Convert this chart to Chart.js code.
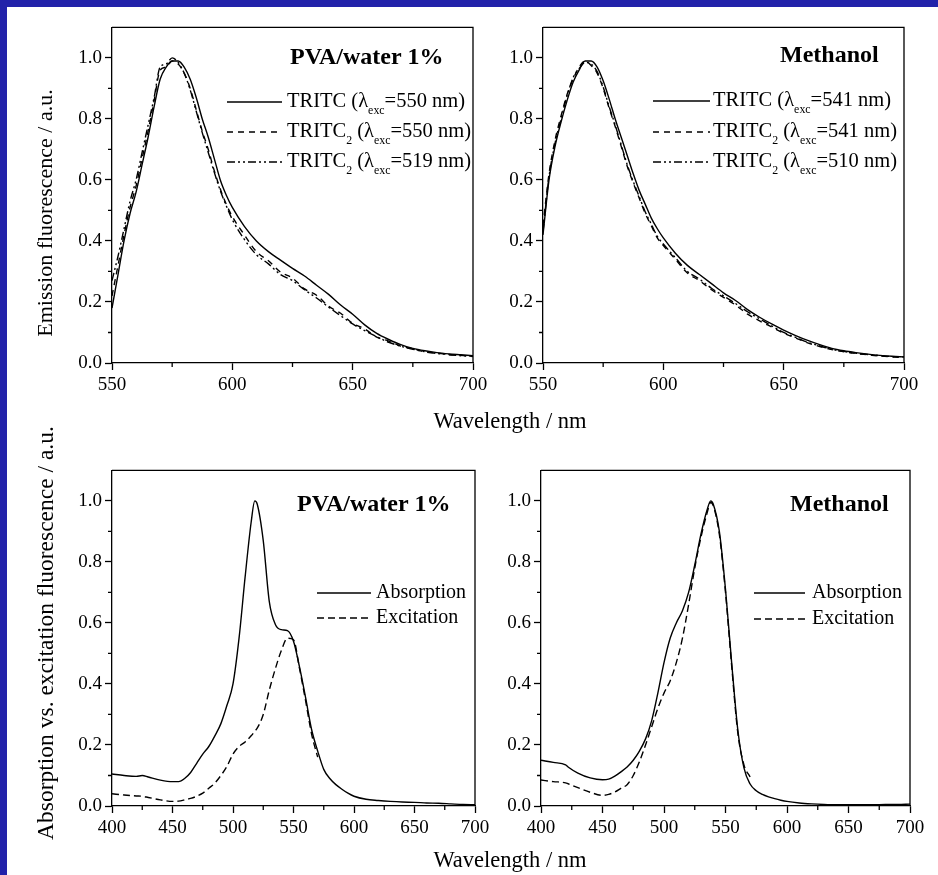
<!DOCTYPE html>
<html>
<head>
<meta charset="utf-8">
<script src="https://cdn.jsdelivr.net/npm/chart.js@4.4.1/dist/chart.umd.min.js"></script>
<style>
  body {
    margin: 0;
    width: 938px;
    height: 875px;
    position: relative;
    overflow: hidden;
    background: #2222aa;
    font-family: 'Liberation Serif', 'Times New Roman', serif;
  }
  #sheet { position: absolute; left: 7px; top: 7px; width: 931px; height: 868px; background: #fff; }
  canvas { position: absolute; }
  .axis-title {
    position: absolute;
    font-size: 22.5px;
    color: #000;
    white-space: nowrap;
    transform: translate(-50%, -50%);
  }
  .axis-title.vertical { font-size: 22px; transform: translate(-50%, -50%) rotate(-90deg); }
  .axis-title.vertical.long { font-size: 23.5px; }
</style>
</head>
<body>
<div id="sheet"></div>
<canvas id="emission-pva"></canvas>
<canvas id="emission-methanol"></canvas>
<canvas id="absorption-pva"></canvas>
<canvas id="absorption-methanol"></canvas>
<div class="axis-title vertical" style="left:45px; top:213px">Emission fluorescence / a.u.</div>
<div class="axis-title" style="left:510px; top:421px">Wavelength / nm</div>
<div class="axis-title vertical long" style="left:45px; top:633px">Absorption vs. excitation fluorescence / a.u.</div>
<div class="axis-title" style="left:510px; top:860px">Wavelength / nm</div>
<script>
// emission spectra, wavelength in nm
const emissionWavelengths = [550, 552.5, 555, 557.5, 560, 562.5, 565, 567.5, 570, 572.5, 575, 577.5, 580, 582.5, 585, 587.5, 590, 592.5, 595, 597.5,
  600, 605, 610, 615, 620, 625, 630, 635, 640, 645, 650, 655, 660, 665, 670, 675, 680, 685, 690, 695, 700];

const pvaTritc550 = [0.18, 0.29, 0.40, 0.49, 0.56, 0.65, 0.74, 0.84, 0.93, 0.97, 0.99, 0.99, 0.97, 0.93, 0.87, 0.80, 0.74, 0.67, 0.60, 0.55,
  0.51, 0.448, 0.40, 0.365, 0.337, 0.31, 0.285, 0.255, 0.225, 0.19, 0.16, 0.125, 0.097, 0.077, 0.06, 0.048, 0.04, 0.034, 0.03, 0.027, 0.024];
const pvaTritc2_550 = [0.22, 0.32, 0.42, 0.51, 0.58, 0.67, 0.76, 0.86, 0.96, 0.97, 0.99, 0.98, 0.95, 0.90, 0.83, 0.76, 0.70, 0.63, 0.57, 0.52,
  0.48, 0.42, 0.365, 0.335, 0.298, 0.278, 0.243, 0.222, 0.186, 0.163, 0.13, 0.112, 0.085, 0.072, 0.055, 0.047, 0.036, 0.033, 0.027, 0.025, 0.021];
const pvaTritc2_519 = [0.27, 0.35, 0.44, 0.53, 0.60, 0.69, 0.78, 0.87, 0.97, 0.98, 1.0, 0.985, 0.95, 0.895, 0.825, 0.755, 0.69, 0.625, 0.565, 0.515,
  0.47, 0.405, 0.355, 0.325, 0.29, 0.27, 0.24, 0.213, 0.183, 0.155, 0.128, 0.106, 0.086, 0.068, 0.055, 0.045, 0.037, 0.031, 0.028, 0.024, 0.022];

const methanolTritc541 = [0.42, 0.60, 0.71, 0.79, 0.86, 0.92, 0.96, 0.99, 0.99, 0.97, 0.925, 0.865, 0.80, 0.74, 0.68, 0.62, 0.565, 0.52, 0.475, 0.44,
  0.41, 0.36, 0.32, 0.29, 0.26, 0.23, 0.205, 0.175, 0.15, 0.128, 0.108, 0.09, 0.074, 0.06, 0.048, 0.04, 0.034, 0.029, 0.025, 0.022, 0.02];
const methanolTritc2_541 = [0.45, 0.62, 0.73, 0.81, 0.88, 0.93, 0.97, 0.99, 0.975, 0.95, 0.90, 0.835, 0.775, 0.71, 0.645, 0.59, 0.54, 0.49, 0.45, 0.41,
  0.385, 0.34, 0.295, 0.27, 0.24, 0.215, 0.19, 0.16, 0.138, 0.118, 0.098, 0.082, 0.066, 0.054, 0.044, 0.037, 0.031, 0.027, 0.023, 0.02, 0.018];
const methanolTritc2_510 = [0.43, 0.61, 0.72, 0.80, 0.875, 0.935, 0.965, 0.985, 0.98, 0.955, 0.905, 0.84, 0.78, 0.715, 0.65, 0.595, 0.545, 0.495, 0.455, 0.415,
  0.39, 0.345, 0.30, 0.275, 0.245, 0.22, 0.195, 0.168, 0.145, 0.122, 0.10, 0.084, 0.068, 0.056, 0.045, 0.038, 0.032, 0.028, 0.024, 0.021, 0.02];

// absorption and excitation spectra; excitation stops at the emission window
const pvaAbsWavelengths = [400, 410, 420, 425, 430, 440, 450, 455, 460, 465, 470, 475, 480, 485, 490, 495, 500, 505, 510, 515, 518, 520, 525, 530,
  535, 540, 545, 550, 555, 560, 565, 570, 575, 580, 585, 590, 595, 600, 610, 620, 630, 640, 650, 660, 670, 680, 690, 700];
const pvaAbsorption = [0.105, 0.10, 0.097, 0.10, 0.095, 0.085, 0.08, 0.08, 0.09, 0.11, 0.14, 0.17, 0.195, 0.23, 0.27, 0.33, 0.40, 0.55, 0.75, 0.93, 1.0, 0.99, 0.87, 0.67,
  0.595, 0.578, 0.575, 0.54, 0.455, 0.355, 0.25, 0.18, 0.12, 0.09, 0.07, 0.055, 0.042, 0.032, 0.022, 0.018, 0.015, 0.013, 0.012, 0.01, 0.009, 0.007, 0.005, 0.004];
const pvaExcitation = [0.04, 0.036, 0.033, 0.032, 0.028, 0.02, 0.015, 0.016, 0.02, 0.025, 0.032, 0.042, 0.058, 0.075, 0.10, 0.13, 0.17, 0.195, 0.21, 0.23, 0.245, 0.255, 0.30, 0.38,
  0.45, 0.51, 0.55, 0.545, 0.45, 0.345, 0.235, 0.16, null, null, null, null, null, null, null, null, null, null, null, null, null, null, null, null];

const methanolAbsWavelengths = [400, 410, 420, 422, 430, 440, 450, 455, 460, 465, 470, 475, 480, 485, 490, 495, 500, 505, 510, 515, 520, 525, 530, 535,
  538, 540, 545, 550, 555, 560, 565, 570, 575, 580, 585, 590, 595, 600, 610, 620, 630, 640, 650, 660, 670, 680, 690, 700];
const methanolAbsorption = [0.15, 0.143, 0.135, 0.128, 0.108, 0.092, 0.086, 0.088, 0.098, 0.112, 0.128, 0.15, 0.18, 0.22, 0.28, 0.37, 0.47, 0.55, 0.60, 0.64, 0.70, 0.79, 0.89, 0.97,
  1.0, 0.99, 0.90, 0.71, 0.47, 0.25, 0.125, 0.072, 0.05, 0.038, 0.03, 0.024, 0.019, 0.015, 0.01, 0.007, 0.005, 0.004, 0.004, 0.004, 0.004, 0.005, 0.005, 0.006];
const methanolExcitation = [0.085, 0.08, 0.076, 0.073, 0.06, 0.045, 0.035, 0.038, 0.046, 0.058, 0.07, 0.10, 0.145, 0.20, 0.26, 0.32, 0.37, 0.41, 0.47, 0.55, 0.66, 0.78, 0.88, 0.96,
  0.995, 0.985, 0.89, 0.70, 0.46, 0.24, 0.135, 0.095, null, null, null, null, null, null, null, null, null, null, null, null, null, null, null, null];

// ticks
const emissionTicks = { min: 550, max: 700, step: 50, minor: [575, 625, 675] };
const absorptionTicks = { min: 400, max: 700, step: 50, minor: [425, 475, 525, 575, 625, 675] };
const intensityMinorTicks = [0.1, 0.3, 0.5, 0.7, 0.9];

const SOLID = [];
const DASHED = [6, 5];
const DASH_DOT_DOT = [8, 3, 2, 3, 2, 3];

Chart.defaults.font.family = "'Liberation Serif', 'Times New Roman', serif";
Chart.defaults.color = '#000';

const toPoints = (xs, ys) => xs.map((x, i) => ({ x: x, y: ys[i] }));

// frame, minor ticks, panel caption and a legend with subscripts
const panelDecorations = {
  id: 'panelDecorations',
  afterDraw(chart, args, opts) {
    const ctx = chart.ctx;
    const area = chart.chartArea;
    const xScale = chart.scales.x;
    const yScale = chart.scales.y;
    const dx = chart.canvas.offsetLeft;
    const dy = chart.canvas.offsetTop;

    ctx.save();
    ctx.strokeStyle = '#000';
    ctx.lineWidth = 1.3;
    ctx.setLineDash([]);
    ctx.beginPath();
    ctx.moveTo(area.left, area.top);
    ctx.lineTo(area.right, area.top);
    ctx.lineTo(area.right, area.bottom);
    opts.minorX.forEach((v) => {
      const px = xScale.getPixelForValue(v);
      ctx.moveTo(px, area.bottom);
      ctx.lineTo(px, area.bottom + 4);
    });
    intensityMinorTicks.forEach((v) => {
      const py = yScale.getPixelForValue(v);
      ctx.moveTo(area.left, py);
      ctx.lineTo(area.left - 4, py);
    });
    ctx.stroke();

    ctx.fillStyle = '#000';
    ctx.textBaseline = 'middle';
    ctx.font = "bold 24px 'Liberation Serif'";
    ctx.fillText(opts.caption, opts.captionX - dx, opts.captionY - dy);

    const legend = opts.legend;
    chart.data.datasets.forEach((dataset, i) => {
      const y = legend.rows[i] - dy;
      ctx.lineWidth = 1.4;
      ctx.setLineDash(dataset.borderDash);
      ctx.beginPath();
      ctx.moveTo(legend.lineStart - dx, y);
      ctx.lineTo(legend.lineEnd - dx, y);
      ctx.stroke();
      ctx.setLineDash([]);

      let x = legend.textStart - dx;
      dataset.label.split(/_\{([^}]*)\}/).forEach((part, k) => {
        const sub = k % 2 === 1;
        const size = sub ? legend.fontSize * 0.58 : legend.fontSize;
        ctx.font = size + "px 'Liberation Serif'";
        ctx.fillText(part, x, sub ? y + legend.fontSize * 0.42 : y);
        x += ctx.measureText(part).width;
      });
    });
    ctx.restore();
  },
};

const createPanel = (id, plot, ticks, datasets, decorations) => {
  const canvas = document.getElementById(id);
  const padLeft = 64;
  const padTop = 12;
  const padRight = 26;
  const padBottom = 46;
  canvas.width = plot.right - plot.left + padLeft + padRight;
  canvas.height = plot.bottom - plot.top + padTop + padBottom;
  canvas.style.left = (plot.left - padLeft) + 'px';
  canvas.style.top = (plot.top - padTop) + 'px';

  const axisGrid = {
    drawOnChartArea: false,
    drawTicks: true,
    tickLength: 7,
    tickColor: '#000',
    tickWidth: 1.3,
  };

  new Chart(canvas, {
    type: 'line',
    data: {
      datasets: datasets.map((d) => ({
        label: d.label,
        data: d.data,
        borderColor: '#000',
        borderWidth: 1.4,
        borderDash: d.dash,
        pointRadius: 0,
        fill: false,
        cubicInterpolationMode: 'monotone',
        spanGaps: false,
      })),
    },
    options: {
      responsive: false,
      animation: false,
      devicePixelRatio: 1,
      layout: { padding: { left: 0, top: padTop, right: padRight, bottom: 0 } },
      plugins: {
        legend: { display: false },
        tooltip: { enabled: false },
        panelDecorations: Object.assign({ minorX: ticks.minor }, decorations),
      },
      scales: {
        x: {
          type: 'linear',
          min: ticks.min,
          max: ticks.max,
          grid: axisGrid,
          border: { display: true, color: '#000', width: 1.3 },
          ticks: { stepSize: ticks.step, padding: 4, font: { size: 19 }, maxRotation: 0, callback: (v) => v },
          afterFit: (scale) => { scale.height = padBottom; },
        },
        y: {
          type: 'linear',
          min: 0,
          max: 1.1,
          grid: axisGrid,
          border: { display: true, color: '#000', width: 1.3 },
          ticks: { stepSize: 0.2, includeBounds: false, padding: 3, font: { size: 19 }, callback: (v) => v.toFixed(1) },
          afterFit: (scale) => { scale.width = padLeft; },
        },
      },
    },
    plugins: [panelDecorations],
  });
};

const initializeSpectraFigure = () => {
  createPanel('emission-pva', { left: 112, top: 25, right: 473, bottom: 363 }, emissionTicks, [
    { label: 'TRITC (λ_{exc}=550 nm)', data: toPoints(emissionWavelengths, pvaTritc550), dash: SOLID },
    { label: 'TRITC_{2} (λ_{exc}=550 nm)', data: toPoints(emissionWavelengths, pvaTritc2_550), dash: DASHED },
    { label: 'TRITC_{2} (λ_{exc}=519 nm)', data: toPoints(emissionWavelengths, pvaTritc2_519), dash: DASH_DOT_DOT },
  ], {
    caption: 'PVA/water 1%', captionX: 290, captionY: 58,
    legend: { lineStart: 227, lineEnd: 282, textStart: 287, rows: [102, 132, 162], fontSize: 20.5 },
  });

  createPanel('emission-methanol', { left: 543, top: 25, right: 904, bottom: 363 }, emissionTicks, [
    { label: 'TRITC (λ_{exc}=541 nm)', data: toPoints(emissionWavelengths, methanolTritc541), dash: SOLID },
    { label: 'TRITC_{2} (λ_{exc}=541 nm)', data: toPoints(emissionWavelengths, methanolTritc2_541), dash: DASHED },
    { label: 'TRITC_{2} (λ_{exc}=510 nm)', data: toPoints(emissionWavelengths, methanolTritc2_510), dash: DASH_DOT_DOT },
  ], {
    caption: 'Methanol', captionX: 780, captionY: 56,
    legend: { lineStart: 653, lineEnd: 710, textStart: 713, rows: [101, 132, 162], fontSize: 20.5 },
  });

  createPanel('absorption-pva', { left: 112, top: 468, right: 475, bottom: 806 }, absorptionTicks, [
    { label: 'Absorption', data: toPoints(pvaAbsWavelengths, pvaAbsorption), dash: SOLID },
    { label: 'Excitation', data: toPoints(pvaAbsWavelengths, pvaExcitation), dash: [7, 4] },
  ], {
    caption: 'PVA/water 1%', captionX: 297, captionY: 505,
    legend: { lineStart: 317, lineEnd: 371, textStart: 376, rows: [593, 618], fontSize: 20 },
  });

  createPanel('absorption-methanol', { left: 541, top: 468, right: 910, bottom: 806 }, absorptionTicks, [
    { label: 'Absorption', data: toPoints(methanolAbsWavelengths, methanolAbsorption), dash: SOLID },
    { label: 'Excitation', data: toPoints(methanolAbsWavelengths, methanolExcitation), dash: [7, 4] },
  ], {
    caption: 'Methanol', captionX: 790, captionY: 505,
    legend: { lineStart: 754, lineEnd: 805, textStart: 812, rows: [593, 619], fontSize: 20 },
  });
};

document.addEventListener('DOMContentLoaded', initializeSpectraFigure);
</script>
</body>
</html>
